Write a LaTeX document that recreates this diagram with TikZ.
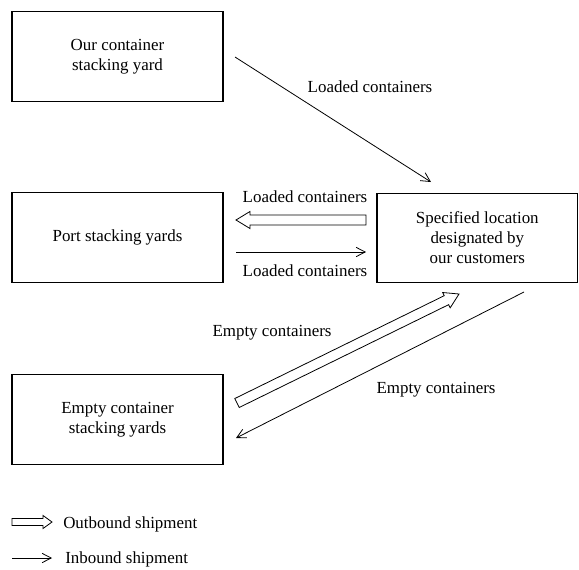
\documentclass[tikz,border=0pt]{standalone}
\usepackage{fontspec}
\setmainfont{Liberation Serif}
\usetikzlibrary{arrows.meta,calc}

\tikzset{
    yard/.style={draw, line width=0.8pt, minimum width=158.25pt, minimum height=67pt,
        align=center, inner sep=0pt, font=\fontsize{12.7}{15}\selectfont},
    lbl/.style={anchor=base, inner sep=0pt, font=\fontsize{12.7}{15}\selectfont},
    inbound/.style={line width=0.6pt, -{Straight Barb[length=6.75pt,width=7pt]}},
    outbound/.style={line width=0.6pt, line join=miter}
}

% hollow arrow: from, to, half shaft, half head, head length
\newcommand{\hollowarrow}[5]{%
    \coordinate (hb) at ($(#2)!#5!(#1)$);
    \draw[outbound] ($(#1)!#3!90:(#2)$) -- ($(hb)!#3!-90:(#1)$) -- ($(hb)!#4!-90:(#1)$)
        -- (#2) -- ($(hb)!#4!90:(#1)$) -- ($(hb)!#3!90:(#1)$) -- ($(#1)!#3!-90:(#2)$) -- cycle;
}

\begin{document}
\begin{tikzpicture}[x=0.75pt, y=-0.75pt]
    \useasboundingbox (0,0) rectangle (579,569);

    % the four yards
    \node[yard] (ours) at (117.5,56.5) {Our container\\stacking yard};
    \node[yard] (port) at (117.5,237.5) {Port stacking yards};
    \node[yard, minimum width=150.5pt] (spec) at (477.3,238) {Specified location\\designated by\\our customers};
    \node[yard, minimum height=68pt] (empty) at (117.5,419.5) {Empty container\\stacking yards};

    % arrow ends
    \coordinate (a1) at (235,57);
    \coordinate (a2) at (431,182);
    \coordinate (b1) at (366,220);
    \coordinate (b2) at (236,220);
    \coordinate (c1) at (236,252);
    \coordinate (c2) at (366,252);
    \coordinate (d1) at (237,403);
    \coordinate (d2) at (459,294);
    \coordinate (e1) at (524,292);
    \coordinate (e2) at (236,438);

    \draw[inbound] (a1) -- (a2);
    \hollowarrow{b1}{b2}{3.75pt}{6.4pt}{10.5pt}
    \draw[inbound] (c1) -- (c2);
    \hollowarrow{d1}{d2}{3.75pt}{6.4pt}{10.5pt}
    \draw[inbound] (e1) -- (e2);

    \node[lbl] (l1) at (370,92) {Loaded containers};
    \node[lbl] (l2) at (305,202) {Loaded containers};
    \node[lbl] (l3) at (305,276) {Loaded containers};
    \node[lbl] (l4) at (272,336) {Empty containers};
    \node[lbl] (l5) at (436,393) {Empty containers};

    % legend
    \coordinate (o1) at (12,522);
    \coordinate (o2) at (52,522);
    \coordinate (i1) at (12,558);
    \coordinate (i2) at (52,558);
    \hollowarrow{o1}{o2}{2.6pt}{4.9pt}{6.75pt}
    \draw[inbound] (i1) -- (i2);
    \node[lbl, anchor=base west] (out) at (63,528) {Outbound shipment};
    \node[lbl, anchor=base west] (in) at (65,563) {Inbound shipment};
\end{tikzpicture}
\end{document}
